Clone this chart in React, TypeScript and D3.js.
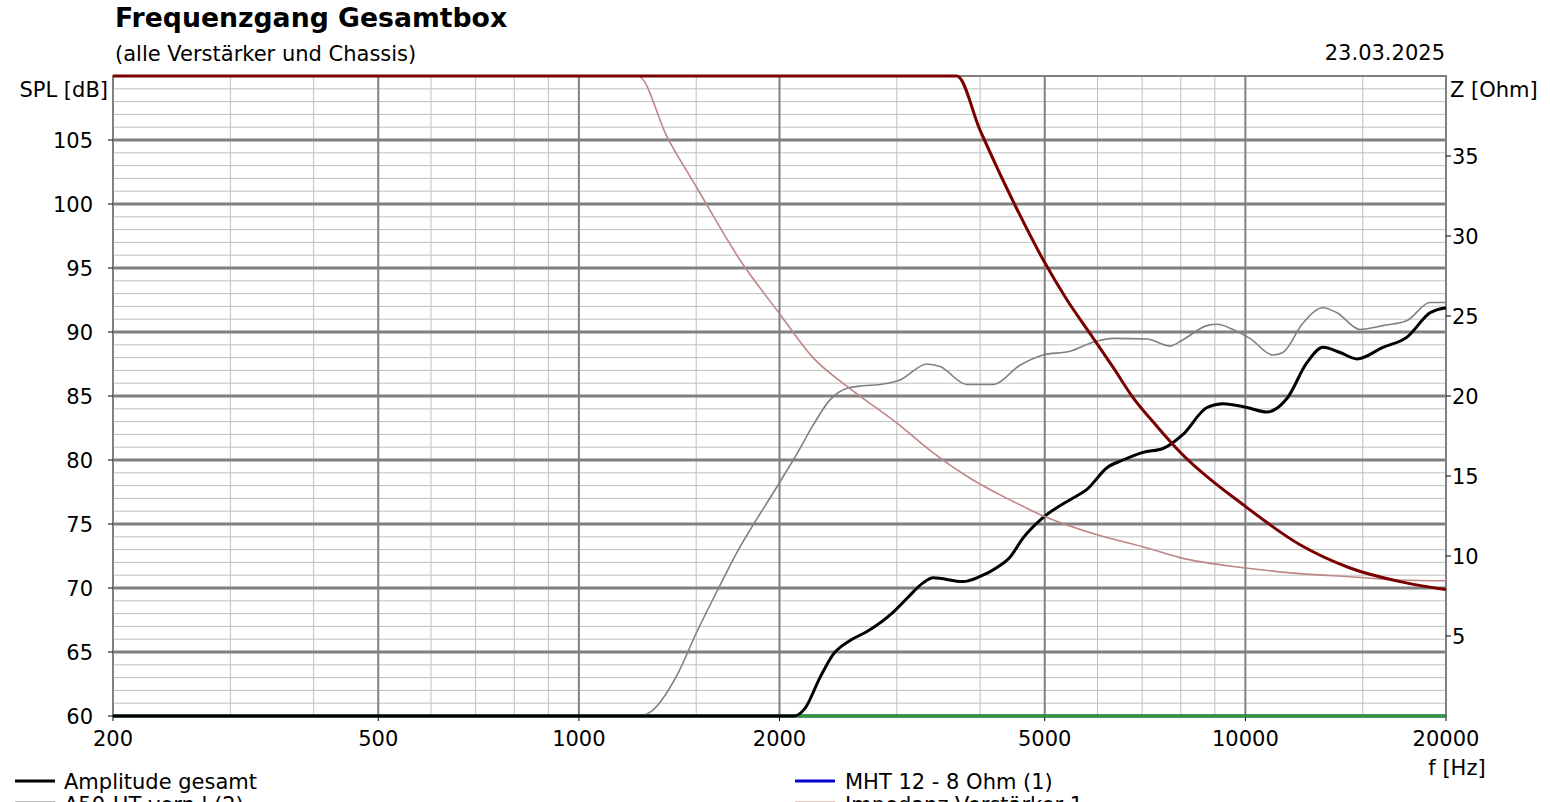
import React from "react";
import * as d3 from "d3";

const xTicks = [200, 500, 1000, 2000, 5000, 10000, 20000];
const xMinor = [300, 400, 600, 700, 800, 900, 1500, 3000, 4000, 6000, 7000, 8000, 9000, 15000];
const splTicks = [60, 65, 70, 75, 80, 85, 90, 95, 100, 105];
const zTicks = [5, 10, 15, 20, 25, 30, 35];

// Amplitude gesamt (black)
const ampGesamt: [number, number][] = [
  [200, 60], [2100, 60], [2184, 60.6], [2300, 63.0], [2406, 64.8], [2552, 65.9], [2706, 66.6],
  [2960, 68.1], [3108, 69.2], [3284, 70.4], [3400, 70.8], [3770, 70.5], [4000, 70.9], [4240, 71.6],
  [4434, 72.4], [4638, 73.9], [4970, 75.5], [5458, 76.9], [5786, 77.7], [6200, 79.4], [6552, 80.0],
  [7022, 80.6], [7524, 80.9], [8062, 82.0], [8758, 84.1], [9256, 84.4], [10056, 84.1], [10772, 83.75],
  [11544, 84.8], [12370, 87.6], [13076, 88.8], [13868, 88.4], [14706, 87.9], [16088, 88.8],
  [17482, 89.6], [18924, 91.5], [20000, 91.9],
];

// A50-HT vorn (grey)
const htVorn: [number, number][] = [
  [200, 60], [1230, 60], [1279, 60.3], [1404, 63.2], [1504, 66.6], [1628, 70.2], [1703, 72.2],
  [2004, 78.3], [2125, 80.5], [2245, 82.7], [2381, 84.7], [2526, 85.6], [2669, 85.8], [2830, 85.9],
  [3032, 86.25], [3330, 87.5], [3482, 87.3], [3822, 85.9], [4182, 85.9], [4590, 87.4], [4970, 88.2],
  [5458, 88.5], [5906, 89.2], [6330, 89.5], [7120, 89.45], [7708, 88.9], [8062, 89.4], [8758, 90.5],
  [9068, 90.6], [9580, 90.2], [10160, 89.5], [11002, 88.2], [11388, 88.4], [12202, 90.7],
  [13076, 91.9], [13726, 91.5], [14860, 90.2], [16088, 90.5], [17482, 90.9], [18924, 92.3], [20000, 92.3],
];

// MHT 12 (blue) and green series: at/below the 60 dB floor
const mht12: [number, number][] = [[200, 60], [20000, 60]];
const greenSeries: [number, number][] = [[200, 60], [20000, 60]];

// Impedance curves (right axis, Ohm)
const zDark: [number, number][] = [
  [200, 40], [3692, 40], [4000, 36.6], [4590, 31.3], [4990, 28.4], [5401, 26.0], [5848, 23.9],
  [6330, 21.8], [6784, 19.9], [7370, 18.1], [7978, 16.5], [10000, 13.1], [12080, 10.7],
  [14355, 9.25], [17060, 8.4], [20000, 7.9],
];
const zLight: [number, number][] = [
  [200, 40], [1227, 40], [1356, 36.2], [1504, 33.0], [1745, 28.5], [2004, 25.1], [2245, 22.4],
  [2526, 20.6], [3002, 18.3], [3364, 16.6], [3902, 14.75], [4389, 13.6], [5040, 12.4], [5906, 11.4],
  [7120, 10.5], [7978, 9.9], [10000, 9.25], [12080, 8.9], [14355, 8.7], [17060, 8.5], [20000, 8.45],
];

const W = 1550, H = 802;
const L = 113, R = 1446, T = 76, B = 716;
const FONT = "DejaVu Sans, Verdana, sans-serif";
const FS = 21;

export default function App() {
  const x = d3.scaleLog().domain([200, 20000]).range([L, R]);
  const y = d3.scaleLinear().domain([60, 110]).range([B, T]).clamp(true);
  const yz = d3.scaleLinear().domain([0, 40]).range([B, T]).clamp(true);

  const lineSpl = d3.line<[number, number]>().x((d) => x(d[0])).y((d) => y(d[1])).curve(d3.curveMonotoneX);
  const lineZ = d3.line<[number, number]>().x((d) => x(d[0])).y((d) => yz(d[1])).curve(d3.curveMonotoneX);

  const minorH = d3.range(61, 110).filter((v) => v % 5 !== 0);
  const majorH = d3.range(65, 110, 5);

  return (
    <svg width={W} height={H} style={{ position: "absolute", left: 0, top: 0, background: "#fff" }} fontFamily={FONT}>
      <rect x={0} y={0} width={W} height={H} fill="#fff" />
      <text x={115} y={27} fontSize={26.7} fontWeight="bold" fill="#000">Frequenzgang Gesamtbox</text>
      <text x={115} y={61} fontSize={FS} fill="#000">(alle Verstärker und Chassis)</text>
      <text x={1445} y={60} fontSize={FS} fill="#000" textAnchor="end">23.03.2025</text>
      <text x={108} y={97} fontSize={FS} fill="#000" textAnchor="end">SPL [dB]</text>
      <text x={1450} y={97} fontSize={FS} fill="#000">Z [Ohm]</text>

      {/* minor grid */}
      {minorH.map((v) => (
        <line key={"mh" + v} x1={L} x2={R} y1={y(v)} y2={y(v)} stroke="#c0c0c0" strokeWidth={1} />
      ))}
      {xMinor.map((v) => (
        <line key={"mv" + v} x1={x(v)} x2={x(v)} y1={T} y2={B} stroke="#c0c0c0" strokeWidth={1} />
      ))}
      {/* major grid */}
      {majorH.map((v) => (
        <line key={"Mh" + v} x1={L} x2={R} y1={y(v)} y2={y(v)} stroke="#808080" strokeWidth={3} />
      ))}
      {xTicks.slice(1, -1).map((v) => (
        <line key={"Mv" + v} x1={x(v)} x2={x(v)} y1={T} y2={B} stroke="#808080" strokeWidth={2} />
      ))}
      {/* frame */}
      <rect x={L} y={T} width={R - L} height={B - T} fill="none" stroke="#808080" strokeWidth={2} />

      {/* ticks & labels */}
      {splTicks.map((v) => (
        <g key={"st" + v}>
          <line x1={L - 5} x2={L} y1={y(v)} y2={y(v)} stroke="#000" strokeWidth={1} />
          <text x={93} y={y(v) + 8} fontSize={FS} textAnchor="end" fill="#000">{v}</text>
        </g>
      ))}
      {zTicks.map((v) => (
        <g key={"zt" + v}>
          <line x1={R} x2={R + 5} y1={yz(v)} y2={yz(v)} stroke="#000" strokeWidth={1} />
          <text x={1452} y={yz(v) + 8} fontSize={FS} fill="#000">{v}</text>
        </g>
      ))}
      {xTicks.map((v) => (
        <g key={"xt" + v}>
          <line x1={x(v)} x2={x(v)} y1={B} y2={B + 5} stroke="#000" strokeWidth={1} />
          <text x={x(v)} y={746} fontSize={FS} textAnchor="middle" fill="#000">{v}</text>
        </g>
      ))}
      <text x={1457} y={775} fontSize={FS} textAnchor="middle" fill="#000">f [Hz]</text>

      {/* curves */}
      <path d={lineSpl(mht12) || ""} fill="none" stroke="#0000cc" strokeWidth={3} />
      <path d={lineSpl(greenSeries) || ""} fill="none" stroke="#2e9a2e" strokeWidth={3} />
      <path d={lineSpl(htVorn) || ""} fill="none" stroke="#808080" strokeWidth={1.6} />
      <path d={lineSpl(ampGesamt) || ""} fill="none" stroke="#000" strokeWidth={3} />
      <path d={lineZ(zLight) || ""} fill="none" stroke="#c08585" strokeWidth={1.6} />
      <path d={lineZ(zDark) || ""} fill="none" stroke="#7a0000" strokeWidth={3} />

      {/* legend */}
      <line x1={15} x2={55} y1={781} y2={781} stroke="#000" strokeWidth={3} />
      <text x={64} y={789} fontSize={FS} fill="#000">Amplitude gesamt</text>
      <line x1={795} x2={835} y1={781} y2={781} stroke="#0000cc" strokeWidth={3} />
      <text x={845} y={789} fontSize={FS} fill="#000">MHT 12 - 8 Ohm (1)</text>
      <line x1={15} x2={55} y1={803} y2={803} stroke="#808080" strokeWidth={3} />
      <text x={64} y={812} fontSize={FS} fill="#000">A50-HT vorn l (2)</text>
      <line x1={795} x2={835} y1={803} y2={803} stroke="#c08585" strokeWidth={3} />
      <text x={845} y={812} fontSize={FS} fill="#000">Impedanz Verstärker 1</text>
    </svg>
  );
}
